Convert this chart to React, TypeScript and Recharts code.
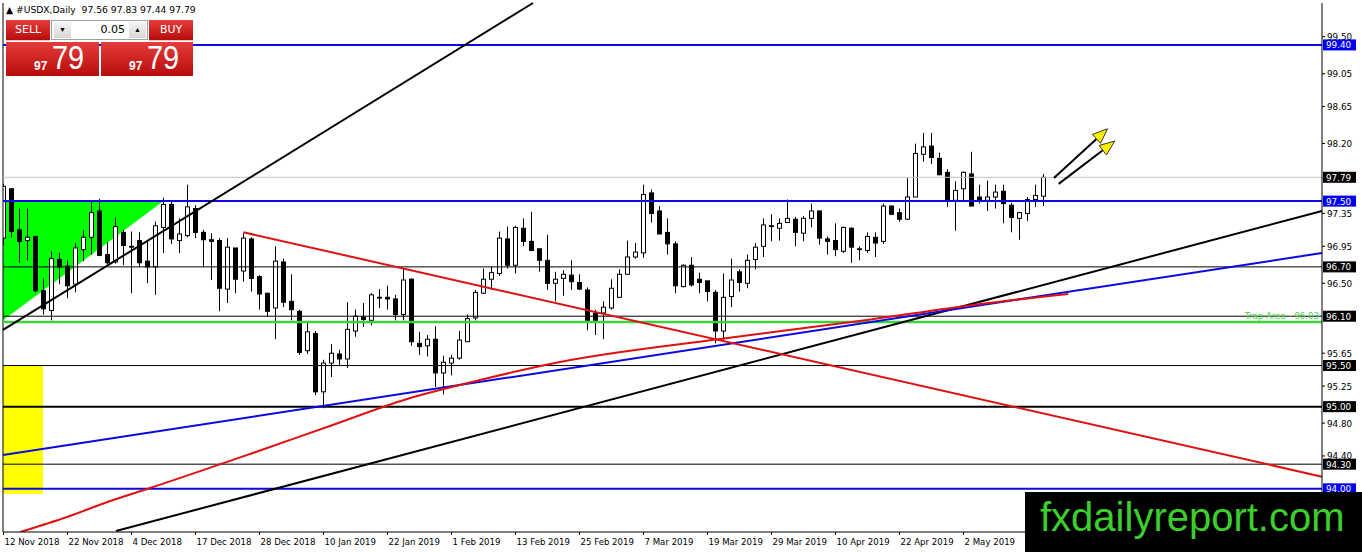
import React from "react";
import {
  ComposedChart,
  Bar,
  Line,
  XAxis,
  YAxis,
  ReferenceLine,
  ReferenceArea,
} from "recharts";

// ---------- DATA ----------
const opens = [
  97.05, 97.65, 97.15, 97.02, 97.07, 96.41, 96.17, 96.79, 96.71, 96.49,
  96.91, 97.06, 97.38, 96.85, 96.76, 97.12, 96.95, 97.02, 96.77, 96.7,
  97.18, 97.46, 97.02, 97.08, 97.41, 97.12, 97.03, 97.02, 96.43, 96.93,
  96.65, 97.04, 96.58, 96.38, 96.2, 96.76, 96.28, 96.16, 95.68, 95.89,
  95.18, 95.53, 95.64, 95.58, 95.92, 96.09, 96.05, 96.33, 96.33, 96.31,
  96.12, 96.55, 95.77, 95.74, 95.82, 95.41, 95.53, 95.59, 95.79, 96.08,
  96.38, 96.55, 96.62, 97.04, 96.72, 97.17, 97.01, 96.92, 96.78, 96.5,
  96.56, 96.6, 96.51, 96.42, 96.14, 96.14, 96.2, 96.33, 96.61, 96.82,
  96.87, 97.6, 97.38, 97.12, 96.98, 96.46, 96.72, 96.55, 96.53, 96.39,
  95.92, 96.34, 96.64, 96.5, 96.79, 96.95, 97.2, 97.17, 97.24, 97.28,
  97.11, 97.29, 97.38, 97.04, 97.02, 96.89, 97.17, 96.92, 96.9, 97.06,
  97.01, 97.44, 97.36, 97.28, 97.55, 98.07, 98.17, 98.02, 97.85, 97.51,
  97.65, 97.83, 97.55, 97.51, 97.55, 97.62, 97.45, 97.29, 97.35, 97.52,
  97.56,
];
const highs = [
  97.71, 97.66, 97.41, 97.41, 97.08, 96.56, 96.89, 96.87, 96.78, 96.99,
  97.15, 97.51, 97.53, 97.0, 97.3, 97.15, 97.13, 97.12, 97.01, 97.25,
  97.54, 97.51, 97.29, 97.7, 97.45, 97.15, 97.11, 97.05, 97.05, 96.93,
  97.11, 97.06, 96.6, 96.38, 96.95, 96.8, 96.61, 96.18, 96.03, 95.92,
  95.57, 95.76, 95.69, 96.27, 96.18, 96.26, 96.38, 96.43, 96.47, 96.36,
  96.68, 96.56, 95.91, 95.87, 95.98, 95.62, 95.63, 95.92, 96.12, 96.42,
  96.68, 96.7, 97.13, 97.19, 97.2, 97.29, 97.37, 96.92, 97.09, 96.64,
  96.66, 96.78, 96.61, 96.45, 96.18, 96.28, 96.55, 96.67, 97.02, 96.99,
  97.7, 97.64, 97.44, 97.29, 97.01, 96.73, 96.82, 96.63, 96.53, 96.42,
  96.62, 96.8, 96.67, 96.85, 96.99, 97.29, 97.34, 97.29, 97.52, 97.31,
  97.32, 97.47, 97.39, 97.07, 97.23, 97.19, 97.18, 96.95, 97.12, 97.12,
  97.47, 97.45, 97.41, 97.78, 98.2, 98.33, 98.33, 98.09, 97.89, 97.74,
  97.86, 98.1, 97.7, 97.75, 97.7, 97.7, 97.48, 97.37, 97.55, 97.7,
  97.83,
];
const lows = [
  96.97, 97.06, 96.75, 96.78, 96.39, 96.12, 96.05, 96.49, 96.32, 96.39,
  96.77, 96.85, 96.83, 96.72, 96.74, 96.72, 96.38, 96.7, 96.5, 96.36,
  96.87, 96.98, 96.87, 97.06, 97.05, 96.7, 96.54, 96.16, 96.26, 96.38,
  96.52, 96.4, 96.18, 96.1, 95.82, 96.21, 96.05, 95.63, 95.64, 95.14,
  94.98, 95.36, 95.49, 95.47, 95.85, 95.97, 95.99, 96.2, 96.18, 96.05,
  96.05, 95.74, 95.63, 95.61, 95.24, 95.15, 95.38, 95.57, 95.79, 96.05,
  96.37, 96.42, 96.59, 96.68, 96.62, 96.95, 96.89, 96.64, 96.42, 96.28,
  96.35, 96.42, 96.42, 95.93, 95.87, 95.82, 96.18, 96.33, 96.61, 96.8,
  96.81, 97.24, 97.1, 96.85, 96.38, 96.45, 96.46, 96.38, 96.28, 95.77,
  95.81, 96.21, 96.4, 96.44, 96.67, 96.82, 97.01, 97.02, 97.24, 96.95,
  97.01, 97.18, 96.97, 96.85, 96.83, 96.87, 96.75, 96.78, 96.87, 96.82,
  96.98, 97.33, 97.25, 97.27, 97.55, 97.98, 97.95, 97.82, 97.43, 97.14,
  97.51, 97.44, 97.47, 97.38, 97.41, 97.23, 97.12, 97.03, 97.26, 97.43,
  97.44,
];
const closes = [
  97.68, 97.13, 97.01, 97.06, 96.41, 96.19, 96.8, 96.7, 96.47, 96.93,
  97.06, 97.36, 96.84, 96.75, 97.19, 96.96, 96.94, 96.75, 96.7, 97.2,
  97.46, 97.04, 97.1, 97.43, 97.12, 97.03, 97.01, 96.44, 96.94, 96.55,
  97.05, 96.56, 96.37, 96.16, 96.77, 96.27, 96.18, 95.66, 95.91, 95.18,
  95.53, 95.65, 95.58, 95.94, 96.1, 96.06, 96.36, 96.33, 96.31, 96.12,
  96.54, 95.79, 95.73, 95.82, 95.41, 95.54, 95.59, 95.81, 96.07, 96.39,
  96.55, 96.63, 97.05, 96.72, 97.18, 97.01, 96.9, 96.78, 96.5, 96.55,
  96.61, 96.52, 96.43, 96.05, 96.05, 96.21, 96.44, 96.61, 96.82, 96.88,
  97.58, 97.35, 97.1, 96.98, 96.47, 96.72, 96.48, 96.51, 96.4, 95.92,
  96.33, 96.54, 96.51, 96.78, 96.94, 97.21, 97.19, 97.23, 97.29, 97.12,
  97.29, 97.38, 97.05, 97.01, 96.91, 97.18, 96.94, 96.91, 97.07, 96.99,
  97.44, 97.34, 97.28, 97.55, 98.08, 98.16, 98.03, 97.82, 97.51, 97.63,
  97.85, 97.44, 97.51, 97.55, 97.61, 97.47, 97.3, 97.36, 97.52, 97.57,
  97.79,
];

const xTickIndex = [0, 8, 16, 24, 32, 40, 48, 56, 64, 72, 80, 88, 96, 104, 112, 120];
const xTickLabels = [
  "12 Nov 2018", "22 Nov 2018", "4 Dec 2018", "17 Dec 2018", "28 Dec 2018",
  "10 Jan 2019", "22 Jan 2019", "1 Feb 2019", "13 Feb 2019", "25 Feb 2019",
  "7 Mar 2019", "19 Mar 2019", "29 Mar 2019", "10 Apr 2019", "22 Apr 2019",
  "2 May 2019",
];

const yTickValues = [99.5, 99.05, 98.65, 98.2, 97.35, 96.95, 96.5, 95.65, 95.25, 94.8, 94.4];
const blackPriceTags = [97.79, 96.7, 96.1, 95.5, 95.0, 94.3];
const bluePriceTags = [99.4, 97.5, 94.0];

const X_MIN = -0.0625;
const X_MAX = 164.8125;
const Y_MIN = 93.475;
const Y_MAX = 99.91;

const BLUE = "#0a0ae0";
const GREEN = "#3cd23c";

const hLines = [
  { price: 97.79, color: "#c0c0c0", width: 1 },
  { price: 99.4, color: BLUE, width: 2 },
  { price: 97.5, color: BLUE, width: 2 },
  { price: 96.7, color: "#000000", width: 1 },
  { price: 96.1, color: "#000000", width: 1 },
  { price: 95.5, color: "#000000", width: 1 },
  { price: 95.0, color: "#000000", width: 2 },
  { price: 94.3, color: "#000000", width: 1 },
  { price: 94.0, color: BLUE, width: 2 },
];

const trapLevel = 96.03;
const trapText = "Trap Area - 96.03";

// trend lines: [start index, start price, end index, end price]
const trendLines = [
  { x1: X_MIN, y1: 95.933, x2: 66.19, y2: 99.91, color: "#000000", width: 2 },
  { x1: 14.06, y1: 93.487, x2: X_MAX, y2: 97.38, color: "#000000", width: 2 },
  { x1: X_MIN, y1: 94.412, x2: X_MAX, y2: 96.869, color: BLUE, width: 2 },
  { x1: 29.98, y1: 97.121, x2: X_MAX, y2: 94.148, color: "#e01010", width: 2 },
];

const redCurveIdx = [2.1, 7.94, 13.69, 18.31, 30.81, 40.81, 50.44, 59.56, 69.56, 89.56, 107.94, 121.19, 133.1];
const redCurveVal = [93.475, 93.658, 93.864, 94.01, 94.424, 94.765, 95.093, 95.324, 95.543, 95.823, 96.054, 96.237, 96.37];

const triangle = { x1: X_MIN, x2: 20, low: 96.05, high: 97.5 };
const yellowBox = { x1: X_MIN, x2: 4.94, low: 93.94, high: 95.5 };

const arrows = [
  { x1: 131.3, y1: 97.782, x2: 138.0, y2: 98.38 },
  { x1: 131.9, y1: 97.71, x2: 138.9, y2: 98.23 },
];

const header = "#USDX,Daily  97.56 97.83 97.44 97.79";

const candles = opens.map((o, i) => ({
  i,
  o,
  h: highs[i],
  l: lows[i],
  c: closes[i],
  range: [lows[i], highs[i]],
}));
const redCurve = redCurveIdx.map((i, k) => ({ i, v: redCurveVal[k] }));

const FONT = "'DejaVu Sans', Tahoma, sans-serif";

// ---------- SHAPES ----------
const Candle = (props: any) => {
  const { x, y, width, height, payload } = props;
  if (!payload || x == null) return null;
  const { o, h, l, c } = payload;
  const cx = Math.floor(x + width / 2) + 0.5;
  const top = Math.min(y, y + height);
  const bot = Math.max(y, y + height);
  const k = h === l ? 0 : (bot - top) / (h - l);
  const yO = top + (h - o) * k;
  const yC = top + (h - c) * k;
  const bTop = Math.min(yO, yC);
  const bH = Math.max(0.8, Math.abs(yO - yC));
  const bull = c >= o;
  return (
    <g>
      <line x1={cx} x2={cx} y1={top} y2={bot} stroke="#000" strokeWidth={1} />
      <rect
        x={cx - 2}
        y={bTop}
        width={4}
        height={bH}
        fill={bull ? "#fff" : "#000"}
        stroke="#000"
        strokeWidth={1}
      />
    </g>
  );
};

const Triangle = (props: any) => {
  const { x, y, width, height } = props;
  return (
    <polygon
      points={`${x},${y} ${x + width},${y} ${x},${y + height}`}
      fill="#00ff00"
      stroke="none"
    />
  );
};

const Arrow = (props: any) => {
  const { x1, y1, x2, y2 } = props;
  if (x1 == null) return null;
  const ang = Math.atan2(y2 - y1, x2 - x1);
  const len = 15;
  const half = 6;
  const bx = x2 - len * Math.cos(ang);
  const by = y2 - len * Math.sin(ang);
  const px = -Math.sin(ang);
  const py = Math.cos(ang);
  const pts = `${x2},${y2} ${bx + px * half},${by + py * half} ${bx - px * half},${by - py * half}`;
  return (
    <g>
      <line x1={x1} y1={y1} x2={bx} y2={by} stroke="#000" strokeWidth={2} />
      <polygon points={pts} fill="#ffee00" stroke="#333" strokeWidth={1} />
    </g>
  );
};

const XTick = (p: any) => {
  const { x, y, payload } = p;
  const k = xTickIndex.indexOf(payload.value);
  return (
    <g>
      <line x1={x} x2={x} y1={y} y2={y + 3} stroke="#000" />
      <text x={x + 1} y={y + 13} fontSize={8.6} fontFamily={FONT} fill="#000">
        {xTickLabels[k]}
      </text>
    </g>
  );
};

const YTick = (p: any) => {
  const { x, y, payload } = p;
  const v = payload.value as number;
  const isBlue = bluePriceTags.includes(v);
  const isBlack = blackPriceTags.includes(v);
  if (isBlue || isBlack) {
    return (
      <g>
        <rect x={x + 1} y={y - 5.5} width={33} height={11} fill={isBlue ? "#0000f0" : "#000"} />
        <text x={x + 4} y={y + 3.5} fontSize={8.8} fontFamily={FONT} fill="#fff">
          {v.toFixed(2)}
        </text>
      </g>
    );
  }
  return (
    <g>
      <line x1={x} x2={x + 3} y1={y} y2={y} stroke="#000" />
      <text x={x + 5} y={y + 3.5} fontSize={8.8} fontFamily={FONT} fill="#000">
        {v.toFixed(2)}
      </text>
    </g>
  );
};

// ---------- PANEL ----------
const redGrad = "linear-gradient(#e43c3c, #b80c0c)";

const Panel = () => (
  <>
    <div
      style={{
        position: "absolute",
        left: 6,
        top: 3,
        fontSize: 9.2,
        fontFamily: FONT,
        color: "#000",
        whiteSpace: "pre",
        lineHeight: "13px",
      }}
    >
      {"▲ " + header}
    </div>
    <div
      style={{
        position: "absolute",
        left: 6,
        top: 20,
        width: 44,
        height: 21,
        background: redGrad,
        color: "#fff",
        fontFamily: FONT,
        fontSize: 11,
        lineHeight: "20px",
        paddingLeft: 9,
        boxSizing: "border-box",
        borderBottom: "1px solid #f4c0c0",
      }}
    >
      SELL
    </div>
    <div
      style={{
        position: "absolute",
        left: 51,
        top: 20,
        width: 97,
        height: 20,
        background: "#fff",
        border: "1px solid #a0a0a0",
        boxSizing: "border-box",
      }}
    >
      <div
        style={{
          position: "absolute",
          left: 2,
          top: 1,
          width: 17,
          height: 16,
          background: "linear-gradient(#f4f4f4, #d8d8d8)",
          fontSize: 7,
          textAlign: "center",
          lineHeight: "16px",
          color: "#000",
        }}
      >
        ▼
      </div>
      <div
        style={{
          position: "absolute",
          right: 22,
          top: 0,
          fontFamily: FONT,
          fontSize: 11,
          lineHeight: "18px",
          color: "#000",
        }}
      >
        0.05
      </div>
      <div
        style={{
          position: "absolute",
          right: 1,
          top: 1,
          width: 17,
          height: 16,
          background: "linear-gradient(#f4f4f4, #d8d8d8)",
          fontSize: 7,
          textAlign: "center",
          lineHeight: "16px",
          color: "#000",
        }}
      >
        ▲
      </div>
    </div>
    <div
      style={{
        position: "absolute",
        left: 149,
        top: 20,
        width: 44,
        height: 21,
        background: redGrad,
        color: "#fff",
        fontFamily: FONT,
        fontSize: 11,
        lineHeight: "20px",
        paddingLeft: 11,
        boxSizing: "border-box",
        borderBottom: "1px solid #f4c0c0",
      }}
    >
      BUY
    </div>
    {[6, 101].map((left) => (
      <div
        key={left}
        style={{
          position: "absolute",
          left,
          top: 42,
          width: left === 6 ? 93 : 92,
          height: 34,
          background: redGrad,
          color: "#fff",
        }}
      >
        <span
          style={{
            position: "absolute",
            left: 28,
            top: 17,
            fontFamily: "'Liberation Sans', Arial, sans-serif",
            fontWeight: "bold",
            fontSize: 12,
            lineHeight: "14px",
          }}
        >
          97
        </span>
        <span
          style={{
            position: "absolute",
            left: 46,
            top: -3,
            fontFamily: "'Liberation Sans', Arial, sans-serif",
            fontSize: 34,
            lineHeight: "36px",
            transform: "scaleX(0.85)",
            transformOrigin: "left top",
          }}
        >
          79
        </span>
      </div>
    ))}
  </>
);

// ---------- APP ----------
export default function App() {
  return (
    <div
      style={{
        position: "absolute",
        left: 0,
        top: 0,
        width: 1362,
        height: 552,
        background: "#fff",
        overflow: "hidden",
      }}
    >
      <ComposedChart
        width={1362}
        height={552}
        data={candles}
        margin={{ top: 3, left: 3, right: 0, bottom: 0 }}
      >
        <XAxis
          dataKey="i"
          type="number"
          domain={[X_MIN, X_MAX]}
          allowDataOverflow
          ticks={xTickIndex}
          interval={0}
          height={20}
          tickSize={0}
          tickMargin={0}
          tickLine={false}
          tick={<XTick />}
          axisLine={{ stroke: "#000", strokeWidth: 1 }}
        />
        <YAxis
          orientation="right"
          type="number"
          domain={[Y_MIN, Y_MAX]}
          allowDataOverflow
          ticks={[...yTickValues, ...blackPriceTags, ...bluePriceTags]}
          interval={0}
          width={40}
          tickSize={0}
          tickMargin={0}
          tickLine={false}
          tick={<YTick />}
          axisLine={{ stroke: "#000", strokeWidth: 1 }}
        />
        <ReferenceArea
          x1={triangle.x1}
          x2={triangle.x2}
          y1={triangle.low}
          y2={triangle.high}
          shape={<Triangle />}
          ifOverflow="visible"
        />
        <ReferenceArea
          x1={yellowBox.x1}
          x2={yellowBox.x2}
          y1={yellowBox.low}
          y2={yellowBox.high}
          fill="#ffff00"
          fillOpacity={1}
          stroke="none"
          ifOverflow="visible"
        />
        <ReferenceLine x={X_MIN} stroke="#000" strokeWidth={1} ifOverflow="visible" />
        {hLines.map((h) => (
          <ReferenceLine
            key={h.price}
            y={h.price}
            stroke={h.color}
            strokeWidth={h.width}
            ifOverflow="visible"
          />
        ))}
        <ReferenceLine
          y={trapLevel}
          stroke={GREEN}
          strokeWidth={2.5}
          ifOverflow="visible"
          label={{
            value: trapText,
            position: "insideBottomRight",
            offset: 3,
            fill: GREEN,
            fontSize: 8.6,
            fontFamily: FONT,
          }}
        />
        {trendLines.map((t, k) => (
          <ReferenceLine
            key={"t" + k}
            segment={[
              { x: t.x1, y: t.y1 },
              { x: t.x2, y: t.y2 },
            ]}
            stroke={t.color}
            strokeWidth={t.width}
            ifOverflow="visible"
          />
        ))}
        <Line
          data={redCurve}
          dataKey="v"
          type="monotone"
          stroke="#e01010"
          strokeWidth={2}
          dot={false}
          activeDot={false}
          isAnimationActive={false}
        />
        <Bar
          dataKey="range"
          barSize={5}
          shape={<Candle />}
          isAnimationActive={false}
        />
        {arrows.map((a, k) => (
          <ReferenceLine
            key={"a" + k}
            segment={[
              { x: a.x1, y: a.y1 },
              { x: a.x2, y: a.y2 },
            ]}
            shape={(p: any) => <Arrow {...p} />}
            ifOverflow="visible"
          />
        ))}
      </ComposedChart>
      <Panel />
      <div
        style={{
          position: "absolute",
          left: 1025,
          top: 492,
          width: 337,
          height: 60,
          background: "#000",
        }}
      >
        <span
          style={{
            position: "absolute",
            left: 15,
            top: 2,
            fontFamily: "'Liberation Sans', Arial, sans-serif",
            fontSize: 40,
            lineHeight: "46px",
            color: "#3ccf2c",
            whiteSpace: "nowrap",
          }}
        >
          fxdailyreport.com
        </span>
      </div>
    </div>
  );
}
